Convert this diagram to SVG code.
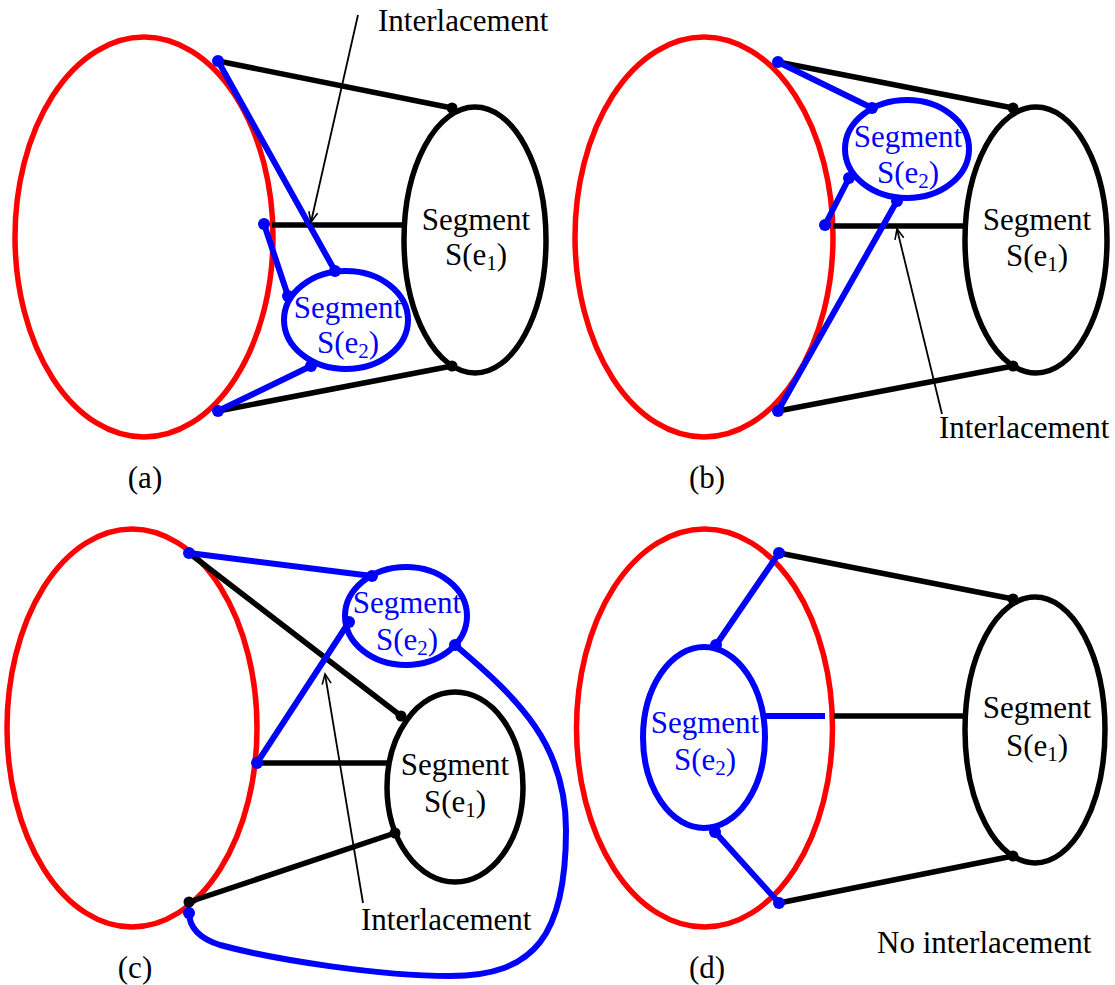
<svg xmlns="http://www.w3.org/2000/svg" width="1115" height="985" viewBox="0 0 1115 985">
<style>
.red{fill:none;stroke:#ff0000;stroke-width:5.5}
.blk{fill:none;stroke:#000;stroke-width:5.5}
.blu{fill:none;stroke:#0000ff;stroke-width:6}
.bl{stroke:#000;stroke-width:5.5;fill:none}
.bu{stroke:#0000ff;stroke-width:6;fill:none;stroke-linecap:round}
.thin{stroke:#000;stroke-width:1.8;fill:none}
.db{fill:#0000ff}
.dk{fill:#000}
text{font-family:"Liberation Serif","Times New Roman",serif;font-size:31px}
.tb{fill:#000;text-anchor:middle}
.tu{fill:#0000ff;text-anchor:middle}
.tl{fill:#000}
.sub{font-size:21px}
</style>
<defs>
<marker id="arr" markerUnits="userSpaceOnUse" markerWidth="14" markerHeight="12" refX="11" refY="6" orient="auto" viewBox="0 0 14 12">
<path d="M1,1.5 L11,6 L1,10.5" fill="none" stroke="#000" stroke-width="1.6"/>
</marker>
</defs>

<!-- Panel (a) -->
<g id="a-red"><ellipse class="red" cx="144" cy="237" rx="129" ry="200"/></g>
<g id="a-e1"><ellipse class="blk" cx="475" cy="240" rx="71" ry="133"/>
<text class="tb" x="476" y="230">Segment</text>
<text class="tb" x="476" y="265">S(e<tspan class="sub" dy="5">1</tspan><tspan dy="-5">)</tspan></text></g>
<g id="a-e2"><ellipse class="blu" cx="346" cy="320" rx="62" ry="49"/>
<text class="tu" x="348" y="318">Segment</text>
<text class="tu" x="348" y="353">S(e<tspan class="sub" dy="5">2</tspan><tspan dy="-5">)</tspan></text></g>
<g id="a-conn">
<line class="bl" x1="218" y1="61" x2="452" y2="108"/>
<line class="bl" x1="218" y1="411" x2="452" y2="366"/>
<line class="bl" x1="272" y1="225" x2="405" y2="225"/>
<line class="bu" x1="218" y1="61" x2="335" y2="271"/>
<line class="bu" x1="264" y1="224" x2="288" y2="296"/>
<line class="bu" x1="218" y1="411" x2="311" y2="366"/>
<line class="thin" x1="358" y1="15" x2="311" y2="222" marker-end="url(#arr)"/>
<circle class="db" cx="218" cy="61" r="6"/><circle class="db" cx="335" cy="271" r="6"/>
<circle class="db" cx="264" cy="224" r="6"/><circle class="db" cx="288" cy="296" r="6"/>
<circle class="db" cx="311" cy="366" r="6"/><circle class="db" cx="218" cy="411" r="6"/>
<circle class="dk" cx="452" cy="108" r="5.5"/><circle class="dk" cx="452" cy="366" r="5.5"/>
</g>
<g id="a-labels"><text class="tl" x="378" y="31">Interlacement</text>
<text class="tb" x="145" y="488">(a)</text></g>

<!-- Panel (b) -->
<g id="b-red"><ellipse class="red" cx="704" cy="237" rx="129" ry="200"/></g>
<g id="b-e1"><ellipse class="blk" cx="1036" cy="240" rx="71" ry="133"/>
<text class="tb" x="1037" y="230">Segment</text>
<text class="tb" x="1037" y="266">S(e<tspan class="sub" dy="5">1</tspan><tspan dy="-5">)</tspan></text></g>
<g id="b-e2"><ellipse class="blu" cx="907" cy="149" rx="62" ry="49"/>
<text class="tu" x="908" y="147">Segment</text>
<text class="tu" x="908" y="183">S(e<tspan class="sub" dy="5">2</tspan><tspan dy="-5">)</tspan></text></g>
<g id="b-conn">
<line class="bl" x1="778" y1="62" x2="1013" y2="108"/>
<line class="bl" x1="778" y1="411" x2="1013" y2="366"/>
<line class="bl" x1="833" y1="226" x2="965" y2="226"/>
<line class="bu" x1="778" y1="62" x2="872" y2="108"/>
<line class="bu" x1="825" y1="225" x2="849" y2="178"/>
<line class="bu" x1="778" y1="411" x2="897" y2="201"/>
<line class="thin" x1="942" y1="414" x2="897" y2="229" marker-end="url(#arr)"/>
<circle class="db" cx="778" cy="62" r="6"/><circle class="db" cx="872" cy="108" r="6"/>
<circle class="db" cx="825" cy="225" r="6"/><circle class="db" cx="849" cy="178" r="6"/>
<circle class="db" cx="897" cy="201" r="6"/><circle class="db" cx="778" cy="411" r="6"/>
<circle class="dk" cx="1013" cy="108" r="5.5"/><circle class="dk" cx="1013" cy="366" r="5.5"/>
</g>
<g id="b-labels"><text class="tl" x="939" y="438">Interlacement</text>
<text class="tb" x="707" y="488">(b)</text></g>

<!-- Panel (c) -->
<g id="c-red"><ellipse class="red" cx="132" cy="728" rx="125" ry="199"/></g>
<g id="c-e1"><ellipse class="blk" cx="455" cy="787" rx="68" ry="95"/>
<text class="tb" x="455" y="775">Segment</text>
<text class="tb" x="455" y="812">S(e<tspan class="sub" dy="5">1</tspan><tspan dy="-5">)</tspan></text></g>
<g id="c-e2"><ellipse class="blu" cx="406" cy="616" rx="61" ry="49"/>
<text class="tu" x="407" y="613">Segment</text>
<text class="tu" x="407" y="650">S(e<tspan class="sub" dy="5">2</tspan><tspan dy="-5">)</tspan></text></g>
<g id="c-conn">
<line class="bl" x1="189" y1="553" x2="401" y2="716"/>
<line class="bl" x1="257" y1="763" x2="388" y2="763"/>
<line class="bl" x1="189" y1="902" x2="395" y2="833"/>
<line class="bu" x1="189" y1="553" x2="372" y2="576"/>
<line class="bu" x1="257" y1="763" x2="349" y2="622"/>
<path class="bu" d="M455,645 C520,700 566,745 566,830 C566,935 535,976 450,976 C380,976 275,960 220,945 C198,938 189,927 189,912"/>
<line class="thin" x1="363" y1="903" x2="325" y2="674" marker-end="url(#arr)"/>
<circle class="db" cx="189" cy="553" r="6"/><circle class="db" cx="372" cy="576" r="6"/>
<circle class="db" cx="257" cy="763" r="6"/><circle class="db" cx="349" cy="622" r="6"/>
<circle class="db" cx="455" cy="645" r="6"/><circle class="db" cx="189" cy="913" r="6"/>
<circle class="dk" cx="401" cy="716" r="5.5"/><circle class="dk" cx="395" cy="833" r="5.5"/>
<circle class="dk" cx="189" cy="902" r="5.5"/>
</g>
<g id="c-labels"><text class="tl" x="361" y="930">Interlacement</text>
<text class="tb" x="135" y="978">(c)</text></g>

<!-- Panel (d) -->
<g id="d-red"><ellipse class="red" cx="704.5" cy="728" rx="128" ry="199"/></g>
<g id="d-e1"><ellipse class="blk" cx="1035" cy="730" rx="70" ry="133"/>
<text class="tb" x="1037" y="718">Segment</text>
<text class="tb" x="1037" y="756">S(e<tspan class="sub" dy="5">1</tspan><tspan dy="-5">)</tspan></text></g>
<g id="d-e2"><ellipse class="blu" cx="704" cy="737.5" rx="61" ry="90.5"/>
<text class="tu" x="705" y="733">Segment</text>
<text class="tu" x="705" y="770">S(e<tspan class="sub" dy="5">2</tspan><tspan dy="-5">)</tspan></text></g>
<g id="d-conn">
<line class="bl" x1="779" y1="553" x2="1013" y2="599"/>
<line class="bl" x1="779" y1="903" x2="1013" y2="856"/>
<line class="bl" x1="834" y1="716" x2="965" y2="716"/>
<line class="blu" x1="765" y1="716" x2="825" y2="716"/>
<line class="bu" x1="779" y1="553" x2="716" y2="645"/>
<line class="bu" x1="715" y1="832" x2="779" y2="903"/>
<circle class="db" cx="779" cy="553" r="6"/><circle class="db" cx="716" cy="645" r="6"/>
<circle class="db" cx="715" cy="832" r="6"/><circle class="db" cx="779" cy="903" r="6"/>
<circle class="dk" cx="1013" cy="599" r="5.5"/><circle class="dk" cx="1013" cy="856" r="5.5"/>
</g>
<g id="d-labels"><text class="tl" x="877" y="953">No interlacement</text>
<text class="tb" x="707" y="978">(d)</text></g>
</svg>
